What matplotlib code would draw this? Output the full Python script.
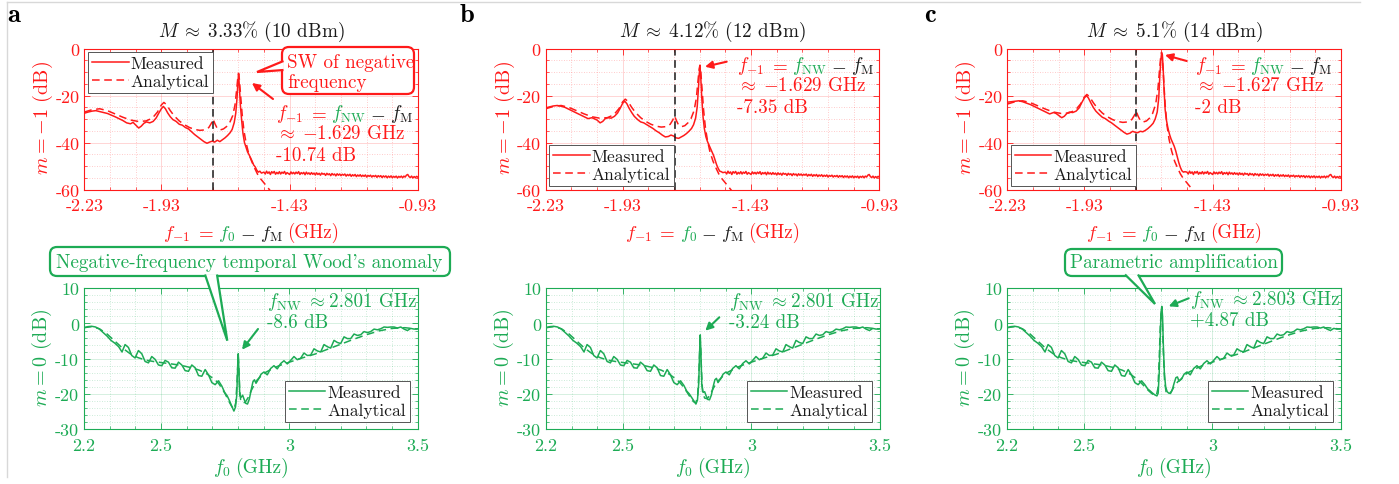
import numpy as np
import matplotlib
matplotlib.use('Agg')
import matplotlib.pyplot as plt
from matplotlib.patches import FancyBboxPatch, Polygon
from matplotlib.lines import Line2D

plt.rcParams['font.family'] = ['cmr10']
plt.rcParams['mathtext.fontset'] = 'cm'
plt.rcParams['axes.unicode_minus'] = False

RED = '#ff1a1a'
GREEN = '#1dab55'
BLACK = '#1a1a1a'

# ---------------- data: m = -1 sideband (top row) ----------------
top_meas_a_x = [-2.230, -2.215, -2.200, -2.185, -2.170, -2.155, -2.140, -2.125, -2.110, -2.095, -2.080, -2.065,
                -2.050, -2.040, -2.030, -2.018, -2.008, -1.998, -1.988, -1.975, -1.962, -1.950, -1.940, -1.930,
                -1.922, -1.914, -1.905, -1.895, -1.885, -1.872, -1.860, -1.848, -1.836, -1.824, -1.812, -1.800,
                -1.788, -1.776, -1.764, -1.752, -1.742, -1.732, -1.722, -1.712, -1.702, -1.692, -1.682, -1.672,
                -1.662, -1.654, -1.646, -1.640, -1.635, -1.632, -1.629, -1.626, -1.622, -1.617, -1.612, -1.606,
                -1.600, -1.594, -1.588, -1.582, -1.576, -1.570, -1.564, -1.558, -1.552, -1.546, -1.540]
top_meas_a_y = [-27.5, -27.0, -26.6, -26.4, -26.8, -27.2, -27.6, -28.3, -29.0, -29.8, -30.6, -31.6,
                -32.0, -31.4, -32.5, -33.8, -33.0, -31.8, -31.2, -31.6, -31.0, -29.5, -27.5, -25.6,
                -24.6, -25.6, -27.4, -29.0, -30.2, -31.0, -32.2, -32.6, -33.6, -34.2, -35.4, -36.6,
                -37.6, -38.6, -39.6, -40.3, -39.8, -39.4, -39.8, -39.0, -39.6, -38.8, -38.0, -37.0,
                -35.8, -34.4, -31.5, -27.5, -21.0, -15.0, -10.74, -16.0, -24.0, -30.5, -36.0, -40.0,
                -42.0, -44.0, -45.2, -46.6, -48.0, -49.6, -50.4, -51.8, -52.6, -52.2, -53.0]

top_meas_b_x = top_meas_a_x
top_meas_b_y = [-25.2, -24.8, -24.4, -24.2, -24.5, -25.0, -25.8, -26.6, -27.4, -28.2, -29.0, -29.8,
                -29.4, -29.9, -30.4, -31.6, -31.0, -29.8, -29.4, -29.6, -28.8, -27.4, -25.4, -23.2,
                -22.4, -23.4, -25.4, -27.2, -28.8, -30.2, -31.2, -31.6, -32.4, -33.2, -34.0, -35.0,
                -35.8, -36.8, -37.6, -37.4, -36.8, -37.2, -38.0, -38.2, -37.6, -37.0, -36.2, -35.2,
                -34.0, -32.4, -29.6, -25.0, -17.0, -11.0, -7.35, -12.0, -21.0, -29.0, -34.0, -37.5,
                -39.5, -41.0, -42.5, -44.0, -45.5, -47.5, -49.5, -51.0, -52.2, -52.4, -52.8]

top_meas_c_x = [-2.230, -2.215, -2.200, -2.185, -2.170, -2.155, -2.140, -2.125, -2.110, -2.095, -2.080, -2.065,
                -2.050, -2.040, -2.030, -2.018, -2.008, -1.998, -1.988, -1.975, -1.962, -1.950, -1.940, -1.930,
                -1.922, -1.914, -1.905, -1.895, -1.885, -1.872, -1.860, -1.848, -1.836, -1.824, -1.812, -1.800,
                -1.788, -1.776, -1.764, -1.752, -1.742, -1.732, -1.722, -1.712, -1.702, -1.692, -1.682, -1.672,
                -1.662, -1.654, -1.646, -1.640, -1.636, -1.632, -1.629, -1.626, -1.623, -1.619, -1.615, -1.610,
                -1.604, -1.598, -1.592, -1.586, -1.580, -1.574, -1.568, -1.562, -1.556, -1.550, -1.544, -1.538]
top_meas_c_y = [-22.8, -22.6, -22.4, -22.2, -22.6, -23.2, -23.8, -24.6, -25.4, -26.2, -27.0, -27.8,
                -27.2, -27.6, -28.4, -29.4, -28.8, -27.6, -27.0, -27.2, -26.6, -25.2, -23.0, -21.0,
                -20.0, -21.0, -23.0, -25.0, -26.6, -28.0, -29.2, -29.8, -30.8, -31.6, -32.6, -33.6,
                -34.6, -35.6, -36.4, -36.0, -35.2, -35.6, -35.8, -35.2, -35.4, -34.8, -34.0, -33.0,
                -31.8, -30.0, -27.0, -21.0, -12.0, -5.0, -2.0, -2.5, -8.0, -18.0, -26.0, -30.5,
                -34.0, -36.5, -38.5, -40.0, -41.5, -43.5, -46.0, -48.5, -50.5, -52.0, -52.6, -52.4]

# measured noise floor (same in all three panels)
floor_x = [-1.530, -1.525, -1.520, -1.515, -1.510, -1.505, -1.500, -1.495, -1.490, -1.485, -1.480, -1.475,
           -1.470, -1.465, -1.460, -1.455, -1.450, -1.445, -1.440, -1.435, -1.430, -1.425, -1.420, -1.415,
           -1.410, -1.405, -1.400, -1.395, -1.390, -1.385, -1.380, -1.375, -1.370, -1.365, -1.360, -1.355,
           -1.350, -1.345, -1.340, -1.335, -1.330, -1.325, -1.320, -1.315, -1.310, -1.305, -1.300, -1.295,
           -1.290, -1.285, -1.280, -1.275, -1.270, -1.265, -1.260, -1.255, -1.250, -1.245, -1.240, -1.235,
           -1.230, -1.225, -1.220, -1.215, -1.210, -1.205, -1.200, -1.195, -1.190, -1.185, -1.180, -1.175,
           -1.170, -1.165, -1.160, -1.155, -1.150, -1.145, -1.140, -1.135, -1.130, -1.125, -1.120, -1.115,
           -1.110, -1.105, -1.100, -1.095, -1.090, -1.085, -1.080, -1.075, -1.070, -1.065, -1.060, -1.055,
           -1.050, -1.045, -1.040, -1.035, -1.030, -1.025, -1.020, -1.015, -1.010, -1.005, -1.000, -0.995,
           -0.990, -0.985, -0.980, -0.975, -0.970, -0.965, -0.960, -0.955, -0.950, -0.945, -0.940, -0.935,
           -0.930]
floor_y = [-52.6, -53.4, -52.2, -53.1, -52.5, -53.6, -52.4, -53.0, -52.3, -53.5, -52.7, -53.3,
           -52.4, -53.4, -52.6, -53.1, -52.3, -53.5, -52.8, -53.2, -53.6, -52.5, -53.3, -52.7,
           -53.4, -52.6, -53.2, -52.4, -53.6, -52.8, -53.3, -52.7, -53.7, -52.6, -53.4, -52.9,
           -53.6, -52.8, -53.5, -53.0, -53.8, -52.9, -53.6, -53.1, -53.9, -53.0, -53.5, -53.2,
           -54.0, -53.1, -53.7, -53.3, -54.1, -53.2, -53.8, -53.4, -54.2, -53.3, -53.9, -53.4,
           -54.1, -53.5, -53.9, -53.4, -54.3, -53.6, -54.1, -53.5, -54.4, -53.7, -54.2, -53.6,
           -54.5, -53.8, -54.3, -53.7, -54.5, -53.9, -54.4, -53.8, -54.7, -54.0, -54.4, -53.9,
           -54.7, -54.1, -54.5, -54.0, -54.8, -54.1, -54.6, -54.1, -54.9, -54.2, -54.7, -54.2,
           -55.0, -54.3, -54.8, -54.2, -55.0, -54.4, -54.8, -54.3, -55.1, -54.4, -54.8, -54.3,
           -55.0, -54.3, -54.7, -53.9, -53.6, -54.5, -54.9, -54.3, -55.1, -54.5, -54.9, -54.4,
           -54.8]

top_ana_x = [-2.230, -2.200, -2.170, -2.140, -2.110, -2.080, -2.050, -2.020, -1.990, -1.965, -1.945, -1.930,
             -1.920, -1.910, -1.895, -1.880, -1.860, -1.840, -1.820, -1.800, -1.780, -1.760, -1.745, -1.735,
             -1.728, -1.721, -1.712, -1.700, -1.688, -1.676, -1.664, -1.652, -1.643, -1.637, -1.632, -1.629,
             -1.626, -1.621, -1.615, -1.608, -1.600, -1.590, -1.578, -1.566, -1.555, -1.545, -1.530, -1.515,
             -1.495]
top_ana_a_y = [-27.0, -26.0, -25.6, -26.4, -27.8, -29.2, -30.4, -31.0, -30.8, -29.6, -27.0, -24.0,
               -22.9, -23.8, -26.4, -28.6, -30.8, -32.4, -33.6, -34.4, -34.8, -34.6, -33.6, -31.8,
               -30.0, -32.0, -34.0, -34.6, -34.2, -33.2, -31.6, -28.6, -24.0, -18.0, -12.5, -10.5,
               -13.0, -20.0, -28.0, -35.0, -40.0, -44.5, -48.0, -51.0, -53.5, -55.2, -57.2, -59.2,
               -62.0]
top_ana_b_y = [-25.6, -24.6, -24.2, -25.0, -26.4, -27.8, -29.0, -29.6, -29.4, -28.2, -25.6, -22.6,
               -21.5, -22.4, -25.0, -27.2, -29.4, -31.0, -32.2, -33.0, -33.4, -33.2, -32.2, -30.4,
               -28.6, -30.6, -32.6, -33.2, -32.8, -31.6, -29.8, -26.4, -21.0, -14.0, -8.5, -7.0,
               -9.5, -17.0, -26.0, -33.5, -39.0, -44.0, -48.0, -51.0, -53.5, -55.2, -57.2, -59.2,
               -62.0]
top_ana_c_y = [-23.6, -22.6, -22.2, -23.0, -24.4, -25.8, -27.0, -27.6, -27.4, -26.2, -23.6, -20.6,
               -19.5, -20.4, -23.0, -25.2, -27.4, -29.0, -30.2, -31.0, -31.4, -31.2, -30.2, -28.4,
               -26.6, -28.6, -30.6, -31.2, -30.8, -29.6, -27.6, -23.6, -17.0, -9.0, -3.0, -1.5,
               -4.0, -13.0, -24.0, -32.5, -38.5, -43.5, -48.0, -51.0, -53.5, -55.2, -57.2, -59.2,
               -62.0]

f_marker = -1.728  # dashed black vertical line

# ---------------- data: m = 0 (bottom row) ----------------
bot_left_x = [2.200, 2.215, 2.230, 2.245, 2.260, 2.275, 2.290, 2.305, 2.320, 2.335, 2.348, 2.360, 2.373,
              2.386, 2.399, 2.412, 2.425, 2.438, 2.451, 2.464, 2.477, 2.490, 2.503, 2.516, 2.529, 2.542,
              2.555, 2.568, 2.581, 2.594, 2.607, 2.620, 2.633, 2.646, 2.659, 2.672, 2.685, 2.698, 2.711,
              2.724]
bot_left_meas_y = [-1.2, -0.9, -0.8, -1.0, -1.6, -2.6, -3.6, -4.8, -5.6, -6.6, -8.1, -6.0, -6.8,
                   -9.1, -9.8, -7.7, -8.6, -10.8, -11.2, -9.4, -10.2, -11.8, -12.0, -10.5, -11.0, -12.6,
                   -12.7, -11.0, -11.8, -13.4, -13.6, -11.8, -12.6, -14.8, -15.0, -13.1, -14.6, -16.8, -17.4,
                   -16.3]
bot_right_x = [2.880, 2.890, 2.901, 2.914, 2.927, 2.940, 2.953, 2.966, 2.979, 2.992, 3.005, 3.018, 3.031,
               3.044, 3.057, 3.070, 3.083, 3.096, 3.109, 3.122, 3.135, 3.148, 3.161, 3.174, 3.187, 3.200,
               3.213, 3.226, 3.239, 3.252, 3.265, 3.278, 3.291, 3.304, 3.317, 3.330, 3.343, 3.356, 3.369,
               3.382, 3.395, 3.408, 3.421, 3.434, 3.447, 3.460, 3.473, 3.486, 3.500]
bot_right_meas_y = [-15.8, -14.4, -13.8, -14.6, -12.8, -12.0, -12.9, -11.4, -10.6, -11.5, -10.5, -9.4, -10.3,
                    -9.9, -8.4, -9.1, -9.0, -7.2, -7.8, -8.1, -6.0, -6.6, -7.0, -4.8, -5.4, -5.7,
                    -3.8, -4.3, -4.3, -3.0, -3.4, -3.2, -2.3, -2.6, -2.3, -1.6, -1.8, -1.5, -1.0,
                    -1.1, -1.0, -1.0, -1.3, -1.0, -1.6, -2.0, -1.4, -1.6, -1.5]

bot_ana_left_x = [2.20, 2.23, 2.26, 2.29, 2.32, 2.35, 2.38, 2.41, 2.44, 2.47, 2.50, 2.53, 2.56, 2.59, 2.62,
                  2.65, 2.68, 2.71, 2.724]
bot_ana_left_y = [-1.2, -0.9, -1.5, -3.0, -5.0, -7.0, -8.6, -9.7, -10.4, -10.8, -11.1, -11.4, -11.7, -12.1,
                  -12.6, -13.3, -14.4, -16.0, -17.0]
bot_ana_right_x = [2.875, 2.90, 2.93, 2.96, 3.00, 3.05, 3.10, 3.15, 3.20, 3.25, 3.30, 3.35, 3.40, 3.45, 3.50]
bot_ana_right_y = [-16.0, -14.2, -13.0, -12.0, -11.0, -9.8, -8.7, -7.3, -5.9, -4.5, -3.2, -2.1, -1.4, -1.2, -1.6]

bot_mid_x = [2.737, 2.748, 2.758, 2.767, 2.776, 2.784, 2.790, 2.795, 2.798, 2.801, 2.804, 2.807, 2.812,
             2.818, 2.824, 2.830, 2.837, 2.844, 2.851, 2.858, 2.864, 2.870]
bot_mid_meas_a = [-17.8, -19.6, -20.6, -22.0, -23.6, -24.9, -23.8, -20.5, -14.0, -8.6, -14.5, -20.5, -21.0,
                  -20.4, -21.6, -22.7, -22.9, -21.5, -19.0, -16.6, -16.0, -17.0]
bot_mid_meas_b = [-17.6, -19.2, -20.0, -21.0, -22.0, -22.9, -21.8, -17.0, -9.0, -3.24, -9.5, -17.5, -19.6,
                  -19.4, -20.6, -21.6, -21.7, -20.4, -18.0, -16.0, -15.6, -16.8]
bot_mid_c_x = [2.737, 2.748, 2.758, 2.767, 2.776, 2.784, 2.789, 2.793, 2.797, 2.800, 2.803, 2.806, 2.809,
               2.813, 2.818, 2.824, 2.830, 2.837, 2.844, 2.851, 2.858, 2.864, 2.870]
bot_mid_meas_c = [-17.4, -18.6, -19.2, -19.8, -20.3, -20.6, -19.8, -14.0, -4.0, 3.0, 4.87, 2.0, -6.0,
                  -14.0, -18.0, -19.4, -19.8, -19.9, -18.8, -17.0, -15.4, -15.2, -16.4]

bot_ana_mid_x = [2.737, 2.750, 2.762, 2.774, 2.784, 2.791, 2.796, 2.799, 2.801, 2.803, 2.806, 2.810, 2.818,
                 2.828, 2.840, 2.852, 2.865]
bot_ana_mid_a = [-18.4, -20.0, -21.8, -23.4, -24.4, -22.6, -17.0, -11.5, -9.5, -12.0, -18.0, -21.6, -22.6,
                 -22.4, -21.0, -19.0, -17.2]
bot_ana_mid_b = [-18.2, -19.6, -21.0, -22.2, -22.6, -20.4, -13.5, -7.0, -5.0, -7.5, -14.0, -19.5, -21.2,
                 -21.4, -20.2, -18.4, -16.8]
bot_ana_mid_c_x = [2.737, 2.750, 2.762, 2.774, 2.782, 2.788, 2.793, 2.797, 2.801, 2.805, 2.809, 2.814, 2.820,
                   2.828, 2.840, 2.852, 2.865]
bot_ana_mid_c = [-18.0, -19.0, -19.8, -20.4, -20.4, -18.5, -10.0, -1.0, 3.8, 1.0, -8.0, -16.5, -19.6,
                 -20.0, -19.4, -17.8, -16.6]

titles = [r'$M \;\approx\; 3.33\%$ (10 dBm)', r'$M \;\approx\; 4.12\%$ (12 dBm)',
          r'$M \;\approx\; 5.1\%$ (14 dBm)']
panel_letters = ['a', 'b', 'c']
top_peak_freq = ['1.629', '1.629', '1.627']
top_peak_db = ['-10.74 dB', '-7.35 dB', '-2 dB']
bot_peak_freq = ['2.801', '2.801', '2.803']
bot_peak_db = ['-8.6 dB', '-3.24 dB', '+4.87 dB']

top_xticks = [-2.23, -1.93, -1.43, -0.93]
top_xticklabels = ['-2.23', '-1.93', '-1.43', '-0.93']
top_yticks = [-60, -40, -20, 0]
top_yticklabels = ['-60', '-40', '-20', '0']
bot_xticks = [2.2, 2.5, 3.0, 3.5]
bot_xticklabels = ['2.2', '2.5', '3', '3.5']
bot_yticks = [-30, -20, -10, 0, 10]
bot_yticklabels = ['-30', '-20', '-10', '0', '10']

# ---------------- figure ----------------
W, H = 1399, 485
fig = plt.figure(figsize=(W / 100, H / 100), dpi=100)
fig.patch.set_facecolor('white')

TXT = 13.7   # annotation text size


def px_axes(l, t, r, b):
    return fig.add_axes([l / W, 1 - b / H, (r - l) / W, (b - t) / H])


def style(ax, color, xt, xtl, yt, ytl, xlim, ylim, xminor, yminor):
    ax.set_xlim(*xlim)
    ax.set_ylim(*ylim)
    ax.set_xticks(xt)
    ax.set_xticklabels(xtl)
    ax.set_yticks(yt)
    ax.set_yticklabels(ytl)
    ax.set_xticks(xminor, minor=True)
    ax.set_yticks(yminor, minor=True)
    for s in ax.spines.values():
        s.set_color(color)
        s.set_linewidth(0.8)
    ax.tick_params(which='both', direction='in', colors=color, top=True, right=True, labelsize=13)
    ax.tick_params(which='major', length=4, width=0.6)
    ax.tick_params(which='minor', length=2, width=0.5)
    ax.tick_params(axis='x', pad=6)
    ax.tick_params(axis='y', pad=3.5)
    ax.grid(which='major', color=color, alpha=0.18, lw=0.7, ls='-')
    ax.grid(which='minor', color=color, alpha=0.3, lw=0.6, ls=(0, (1, 2)))
    ax.set_axisbelow(True)


def add_legend(ax, color, loc, anchor):
    h1 = Line2D([], [], color=color, lw=1.1, ls='-')
    h2 = Line2D([], [], color=color, lw=1.1, ls=(0, (5, 3)))
    leg = ax.legend([h1, h2], ['Measured', 'Analytical'], loc=loc, bbox_to_anchor=anchor,
                    borderaxespad=0, fontsize=12.6, handlelength=2.1, handletextpad=0.1,
                    borderpad=0.22, labelspacing=0.15, fancybox=False, framealpha=1,
                    edgecolor='#555555')
    leg.get_frame().set_linewidth(0.7)
    for t in leg.get_texts():
        t.set_color(BLACK)


top_lefts = [84.3, 545.7, 1007.3]
bot_lefts = [84.0, 546.0, 1007.0]
AXW = 333.7

top_meas = [(top_meas_a_x, top_meas_a_y), (top_meas_b_x, top_meas_b_y), (top_meas_c_x, top_meas_c_y)]
top_ana = [top_ana_a_y, top_ana_b_y, top_ana_c_y]
bot_mid_meas = [(bot_mid_x, bot_mid_meas_a), (bot_mid_x, bot_mid_meas_b), (bot_mid_c_x, bot_mid_meas_c)]
bot_mid_ana = [(bot_ana_mid_x, bot_ana_mid_a), (bot_ana_mid_x, bot_ana_mid_b), (bot_ana_mid_c_x, bot_ana_mid_c)]

top_minor_x = [-2.13, -2.03, -1.83, -1.73, -1.63, -1.53, -1.33, -1.23, -1.13, -1.03]
top_minor_y = [-55, -50, -45, -35, -30, -25, -15, -10, -5]
bot_minor_x = [2.3, 2.4, 2.6, 2.7, 2.8, 2.9, 3.1, 3.2, 3.3, 3.4]
bot_minor_y = [-28, -26, -24, -22, -18, -16, -14, -12, -8, -6, -4, -2, 2, 4, 6, 8]

for i in range(3):
    L = top_lefts[i]
    ax = px_axes(L, 49.7, L + AXW, 190.5)
    style(ax, RED, top_xticks, top_xticklabels, top_yticks, top_yticklabels, (-2.23, -0.93), (-60, 0),
          top_minor_x, top_minor_y)
    mx, my = top_meas[i]
    ax.plot(list(mx) + floor_x, list(my) + floor_y, color=RED, lw=1.1)
    ax.plot(top_ana_x, top_ana[i], color=RED, lw=1.1, ls=(0, (5, 3)))
    ax.axvline(f_marker, color=BLACK, lw=1.1, ls=(0, (5, 3)))
    if i == 0:
        add_legend(ax, RED, 'upper left', (3.7 / AXW, 1 - 3.5 / 140.8))
    else:
        add_legend(ax, RED, 'lower left', (3.5 / AXW, 3.5 / 140.8))

    Lb = bot_lefts[i]
    axb = px_axes(Lb, 289.3, Lb + AXW, 430.0)
    style(axb, GREEN, bot_xticks, bot_xticklabels, bot_yticks, bot_yticklabels, (2.2, 3.5), (-30, 10),
          bot_minor_x, bot_minor_y)
    cx, cy = bot_mid_meas[i]
    axb.plot(bot_left_x + list(cx) + bot_right_x, bot_left_meas_y + list(cy) + bot_right_meas_y,
             color=GREEN, lw=1.1)
    ax2x, ax2y = bot_mid_ana[i]
    axb.plot(bot_ana_left_x + list(ax2x) + bot_ana_right_x, bot_ana_left_y + list(ax2y) + bot_ana_right_y,
             color=GREEN, lw=1.1, ls=(0, (5, 3)))
    add_legend(axb, GREEN, 'lower right', (1 - 8 / AXW, 7 / 140.7))

# ---------------- overlay in pixel coordinates ----------------
ov = fig.add_axes([0, 0, 1, 1], zorder=20)
ov.set_xlim(0, W)
ov.set_ylim(H, 0)
ov.axis('off')
ov.patch.set_alpha(0)

fig.canvas.draw()
renderer = fig.canvas.get_renderer()


def mtext(x, y, parts, size, ha='left', gap=4.0):
    ts = [ov.text(0, y, s, color=c, fontsize=size, ha='left', va='baseline') for s, c in parts]
    ws = [t.get_window_extent(renderer).width for t in ts]
    total = sum(ws) + gap * (len(ts) - 1)
    start = x if ha == 'left' else x - total / 2
    for t, w in zip(ts, ws):
        t.set_x(start)
        start += w + gap
    return ts


def callout(x0, y0, x1, y1, b1, b2, tip, color, lw=1.6):
    box = FancyBboxPatch((x0, y0), x1 - x0, y1 - y0, boxstyle='round,pad=0,rounding_size=7',
                         fc='white', ec=color, lw=lw, zorder=5)
    ov.add_patch(box)
    poly = Polygon([b1, tip, b2], closed=False, fc='white', ec=color, lw=lw, zorder=6, joinstyle='miter')
    ov.add_patch(poly)


def arrow(tail, head, color):
    ov.annotate('', xy=head, xytext=tail,
                arrowprops=dict(arrowstyle='-|>', color=color, lw=1.5, mutation_scale=11,
                                shrinkA=0, shrinkB=0))


# frame lines of the screenshot
ov.add_line(Line2D([7, 1360], [2.5, 2.5], color='#d8d8d8', lw=1))
ov.add_line(Line2D([7, 7], [2.5, 478], color='#d8d8d8', lw=1))

panel_x = [14, 467, 930]
for i in range(3):
    L = top_lefts[i]
    cxm = L + AXW / 2
    ov.text(panel_x[i], 15, panel_letters[i], fontsize=19, family='cmb10', ha='center', va='center',
            color='black')
    ov.text(cxm, 32, titles[i], fontsize=13.8, ha='center', va='center', color=BLACK)
    # y labels
    ov.text(L - 41, 118, r'$m = -1$ (dB)', fontsize=14.5, rotation=90, ha='center', va='center', color=RED)
    ov.text(bot_lefts[i] - 42, 358, r'$m = 0$ (dB)', fontsize=14.5, rotation=90, ha='center', va='center',
            color=GREEN)
    # x labels
    mtext(cxm, 238, [(r'$f_{-1}$', RED), (r'$=$', RED), (r'$f_0$', GREEN), (r'$-$', BLACK),
                     (r'$f_{\mathrm{M}}$', BLACK), ('(GHz)', RED)], 13.6, ha='center', gap=4.5)
    mtext(bot_lefts[i] + AXW / 2, 473, [(r'$f_0$', GREEN), ('(GHz)', GREEN)], 14, ha='center', gap=5)

# top annotations
top_text_x = [276, 737, 1195]
top_text_y = [119, 71, 71]
for i in range(3):
    x0 = top_text_x[i]
    y0 = top_text_y[i]
    mtext(x0, y0, [(r'$f_{-1}$', RED), (r'$=$', RED), (r'$f_{\mathrm{NW}}$', GREEN), (r'$-$', BLACK),
                   (r'$f_{\mathrm{M}}$', BLACK)], TXT, gap=4.5)
    ov.text(x0, y0 + 20, r'$\approx\;{-}$' + top_peak_freq[i] + ' GHz', fontsize=TXT, color=RED,
            ha='left', va='baseline')
    ov.text(x0, y0 + 42, top_peak_db[i], fontsize=TXT, color=RED, ha='left', va='baseline')

arrow((273, 100), (252, 84), RED)
arrow((726.7, 62.7), (705, 67.7), RED)
arrow((1186.7, 62), (1165, 56), RED)

callout(282, 48, 414, 95, (283.5, 62), (283.5, 71), (257, 73), RED)
ov.text(287, 63, 'SW of negative', fontsize=TXT, color=RED, ha='left', va='center', zorder=7)
ov.text(287, 83, 'frequency', fontsize=TXT, color=RED, ha='left', va='center', zorder=7)

# bottom annotations
bot_text_x = [267, 729, 1190]
bot_text_y = [307, 307, 305]
for i in range(3):
    x0 = bot_text_x[i]
    y0 = bot_text_y[i]
    mtext(x0, y0, [(r'$f_{\mathrm{NW}} \;\approx$', GREEN), (bot_peak_freq[i] + ' GHz', GREEN)], TXT, gap=4)
    ov.text(x0, y0 + 21, bot_peak_db[i], fontsize=TXT, color=GREEN, ha='left', va='baseline')

arrow((258, 330), (242, 350.7), GREEN)
arrow((719.3, 318.3), (705.3, 331.7), GREEN)
arrow((1188.7, 299.3), (1168.7, 307.3), GREEN)

callout(50, 248, 450, 277, (205, 275.5), (217, 275.5), (227.3, 341.7), GREEN)
ov.text(249, 263, "Negative-frequency temporal Wood's anomaly", fontsize=13.8, color=GREEN,
        ha='center', va='center', zorder=7)
callout(1065, 250, 1282, 277, (1125, 275.5), (1138, 275.5), (1155, 305), GREEN)
ov.text(1173.5, 263.5, 'Parametric amplification', fontsize=13.8, color=GREEN,
        ha='center', va='center', zorder=7)

fig.savefig('out.png', dpi=100, facecolor='white')
